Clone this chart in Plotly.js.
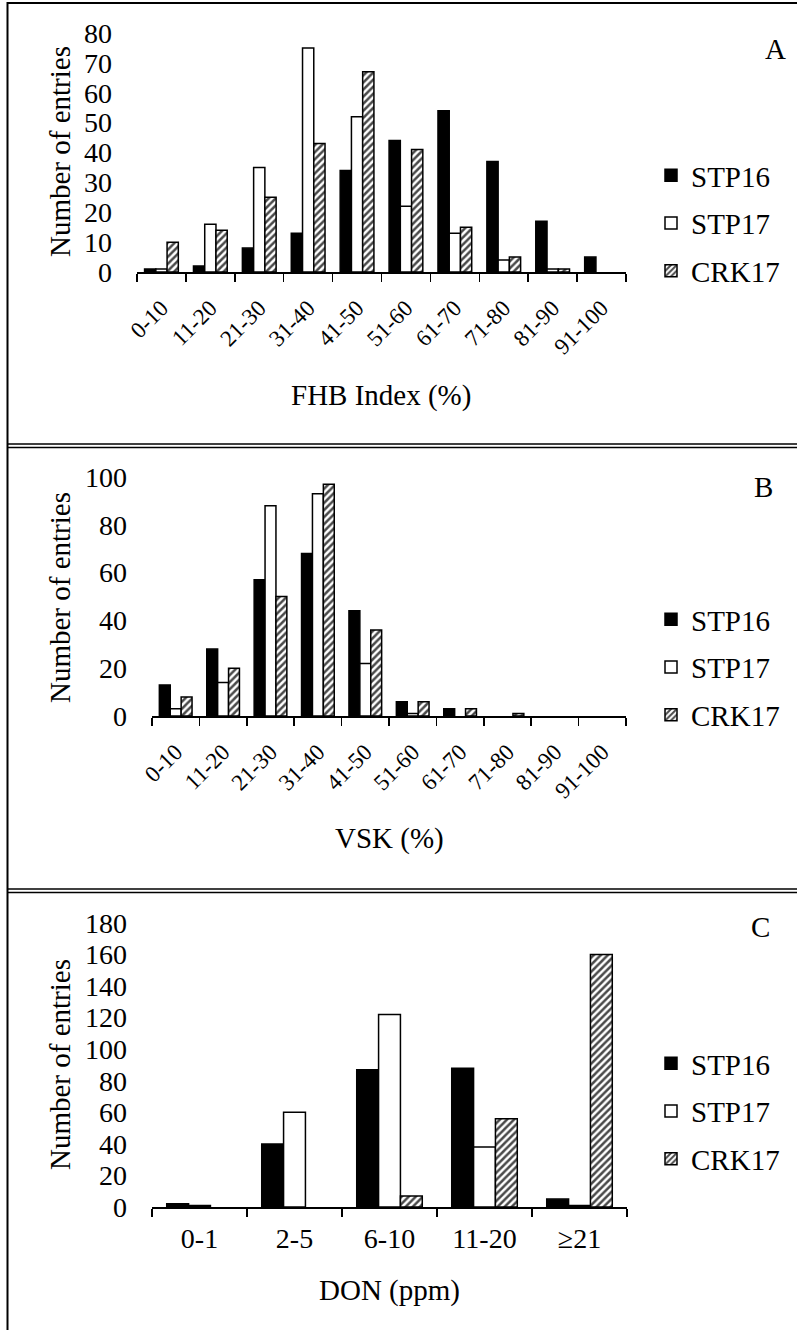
<!DOCTYPE html>
<html>
<head>
<meta charset="utf-8">
<script src="https://cdn.plot.ly/plotly-3.0.1.min.js"></script>
<style>
  html, body { margin: 0; padding: 0; background: #fff; }
  #chart { width: 797px; height: 1330px; }
</style>
</head>
<body>
<div id="chart"></div>
<script>
// Entry counts per score bin, for the three environments
const seriesNames = ['STP16', 'STP17', 'CRK17'];

const fhbBins = ['0-10', '11-20', '21-30', '31-40', '41-50', '51-60', '61-70', '71-80', '81-90', '91-100'];
const fhbSTP16 = [1, 2, 8, 13, 34, 44, 54, 37, 17, 5];
const fhbSTP17 = [1, 16, 35, 75, 52, 22, 13, 4, 1, 0];
const fhbCRK17 = [10, 14, 25, 43, 67, 41, 15, 5, 1, 0];

const vskBins = ['0-10', '11-20', '21-30', '31-40', '41-50', '51-60', '61-70', '71-80', '81-90', '91-100'];
const vskSTP16 = [13, 28, 57, 68, 44, 6, 3, 0, 0, 0];
const vskSTP17 = [3, 14, 88, 93, 22, 1, 0, 0, 0, 0];
const vskCRK17 = [8, 20, 50, 97, 36, 6, 3, 1, 0, 0];

const donBins = ['0-1', '2-5', '6-10', '11-20', '≥21'];
const donSTP16 = [2, 40, 87, 88, 5];
const donSTP17 = [1, 60, 122, 38, 1];
const donCRK17 = [0, 0, 7, 56, 160];

const fhbTicks = [0, 10, 20, 30, 40, 50, 60, 70, 80];
const vskTicks = [0, 20, 40, 60, 80, 100];
const donTicks = [0, 20, 40, 60, 80, 100, 120, 140, 160, 180];

// ---- styling ----
const FONT = 'Liberation Serif, Times New Roman, serif';
const W = 797, H = 1330;
const px = v => v / W;          // horizontal pixel -> paper
const py = v => 1 - v / H;      // vertical pixel -> paper

const outline = { color: '#000', width: 1.5 };
const markerFor = {
  STP16: { color: '#000', line: outline },
  STP17: { color: '#fff', line: outline },
  CRK17: {
    color: '#fff',
    line: outline,
    pattern: { shape: '/', fgcolor: '#4a4a4a', bgcolor: '#fff', size: 5, solidity: 0.5 }
  }
};

function panelTraces(bins, valuesBySeries, xa, ya, legendId, tag) {
  return seriesNames.map((name, i) => ({
    type: 'bar',
    name: name,
    x: bins,
    // empty bins are left blank rather than drawn as a flat outline on the axis
    y: valuesBySeries[i].map(v => (v === 0 ? null : v)),
    xaxis: xa,
    yaxis: ya,
    legend: legendId,
    legendgroup: tag + name,
    marker: markerFor[name],
    hoverinfo: 'x+y+name'
  }));
}

const data = [].concat(
  panelTraces(fhbBins, [fhbSTP16, fhbSTP17, fhbCRK17], 'x', 'y', 'legend', 'A'),
  panelTraces(vskBins, [vskSTP16, vskSTP17, vskCRK17], 'x2', 'y2', 'legend2', 'B'),
  panelTraces(donBins, [donSTP16, donSTP17, donCRK17], 'x3', 'y3', 'legend3', 'C')
);

function xAxis(domain, anchor, angle, size, standoff) {
  return {
    domain: domain, anchor: anchor, type: 'category',
    showline: true, linecolor: '#000', linewidth: 1.5,
    ticks: 'outside', tickson: 'boundaries', ticklen: 8, tickwidth: 1.5, tickcolor: '#000',
    tickangle: angle, showgrid: false, zeroline: false,
    tickfont: { family: FONT, size: size, color: '#000' },
    ticklabelstandoff: standoff, automargin: false
  };
}
function yAxis(domain, anchor, range, ticks) {
  return {
    domain: domain, anchor: anchor, range: range,
    tickmode: 'array', tickvals: ticks, ticktext: ticks.map(String),
    showline: false, showgrid: false, zeroline: false, ticks: '',
    ticklabelstandoff: 24,
    tickfont: { family: FONT, size: 28, color: '#000' },
    automargin: false
  };
}

function legendAt(xPix, yPix) {
  return {
    x: px(xPix), y: py(yPix), xanchor: 'left', yanchor: 'top',
    font: { family: FONT, size: 29, color: '#000' },
    bgcolor: 'rgba(0,0,0,0)', borderwidth: 0,
    tracegroupgap: 7, itemclick: false, itemdoubleclick: false
  };
}

function label(text, xPix, yPix, angle) {
  return {
    text: text, xref: 'paper', yref: 'paper', x: px(xPix), y: py(yPix),
    xanchor: 'center', yanchor: 'middle', showarrow: false, textangle: angle || 0,
    font: { family: FONT, size: 29, color: '#000' }
  };
}

function hline(yPix, x0, x1, w) {
  return { type: 'line', xref: 'paper', yref: 'paper', x0: px(x0), x1: px(x1), y0: py(yPix), y1: py(yPix),
           line: { color: '#000', width: w } };
}

const layout = {
  width: W, height: H,
  margin: { l: 0, r: 0, t: 0, b: 0 },
  paper_bgcolor: '#fff', plot_bgcolor: 'rgba(0,0,0,0)',
  barmode: 'group', bargap: 0.31, bargroupgap: 0,
  showlegend: true,
  xaxis: xAxis([px(137), px(626)], 'y', -45, 23, 12),
  yaxis: yAxis([py(272), py(33)], 'x', [0, 80], fhbTicks),
  xaxis2: xAxis([px(152), px(626)], 'y2', -45, 23, 12),
  yaxis2: yAxis([py(716), py(477)], 'x2', [0, 100], vskTicks),
  xaxis3: xAxis([px(152), px(627)], 'y3', 0, 28, 6),
  yaxis3: yAxis([py(1207), py(923)], 'x3', [0, 180], donTicks),
  legend: legendAt(651, 150),
  legend2: legendAt(651, 594),
  legend3: legendAt(651, 1038),
  annotations: [
    label('A', 775, 49), label('B', 763, 487), label('C', 760, 927),
    label('Number of entries', 60, 151, -90),
    label('Number of entries', 60, 597, -90),
    label('Number of entries', 60, 1064, -90),
    label('FHB Index (%)', 381, 395),
    label('VSK (%)', 389, 838),
    label('DON (ppm)', 389, 1290)
  ],
  shapes: [
    // outer frame and panel separators
    hline(3, 7, 797, 2),
    { type: 'line', xref: 'paper', yref: 'paper', x0: px(7.5), x1: px(7.5), y0: py(2), y1: py(1330),
      line: { color: '#000', width: 2 } },
    hline(444, 7, 797, 1.6), hline(447.5, 7, 797, 1.6),
    hline(889, 7, 797, 1.6), hline(892.5, 7, 797, 1.6)
  ]
};

Plotly.newPlot('chart', data, layout, { staticPlot: true, displayModeBar: false });
</script>
</body>
</html>
